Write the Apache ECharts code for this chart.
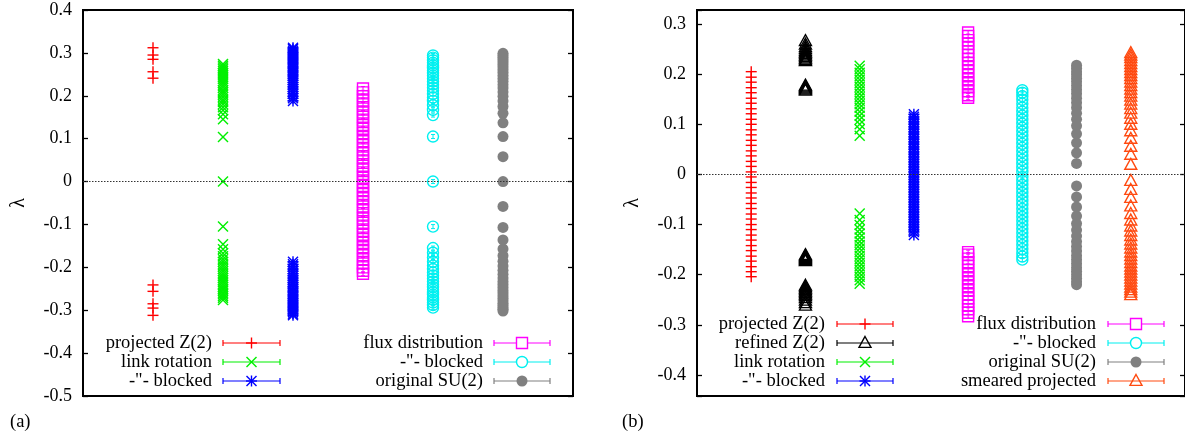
<!DOCTYPE html>
<html>
<head>
<meta charset="utf-8">
<script src="https://cdn.jsdelivr.net/npm/echarts@6/dist/echarts.min.js"></script>
<style>
  html, body { margin: 0; padding: 0; background: #fff; }
  #chart { width: 1185px; height: 440px; }
</style>
</head>
<body>
<div id="chart"></div>
<script>
// ---- Panel (a): eigenvalue spectra, one column per method ----
const projZ2A = [0.312, 0.295, 0.285, 0.256, 0.241, -0.241, -0.256, -0.285, -0.295, -0.312];
const linkRotA = [0, 0.104, 0.145, 0.157, 0.166, 0.173, 0.180, 0.186, 0.191, 0.197, 0.203, 0.208, 0.213,
  0.219, 0.224, 0.229, 0.234, 0.239, 0.244, 0.249, 0.253, 0.258, 0.262, 0.266, 0.270, 0.274,
  -0.105, -0.146, -0.158, -0.167, -0.174, -0.181, -0.187, -0.193, -0.198, -0.204, -0.209, -0.215,
  -0.220, -0.225, -0.230, -0.235, -0.240, -0.245, -0.250, -0.254, -0.259, -0.263, -0.267, -0.271, -0.276];
const linkBlockedA = [0.188, 0.194, 0.199, 0.205, 0.210, 0.216, 0.221, 0.226, 0.231, 0.236, 0.241, 0.246,
  0.250, 0.255, 0.259, 0.264, 0.268, 0.273, 0.277, 0.281, 0.285, 0.289, 0.293, 0.297, 0.301, 0.305, 0.309, 0.312,
  -0.187, -0.193, -0.198, -0.204, -0.209, -0.215, -0.220, -0.225, -0.230, -0.235, -0.240, -0.245,
  -0.249, -0.254, -0.258, -0.263, -0.267, -0.272, -0.276, -0.280, -0.284, -0.288, -0.292, -0.296, -0.300, -0.304, -0.308, -0.312];
const fluxA = [0.217, 0.208, 0.199, 0.189, 0.180, 0.170, 0.161, 0.151, 0.142, 0.132, 0.123, 0.113, 0.104,
  0.094, 0.085, 0.075, 0.066, 0.056, 0.047, 0.037, 0.028, 0.018, 0.009, -0.001, -0.010, -0.020, -0.029,
  -0.039, -0.048, -0.058, -0.067, -0.077, -0.086, -0.096, -0.105, -0.115, -0.124, -0.134, -0.143, -0.153,
  -0.162, -0.172, -0.181, -0.191, -0.200, -0.208, -0.215];
const fluxBlockedA = [0, 0.105, 0.155, 0.167, 0.178, 0.188, 0.196, 0.204, 0.212, 0.219, 0.226, 0.233, 0.240,
  0.247, 0.253, 0.259, 0.265, 0.271, 0.277, 0.283, 0.289, 0.294,
  -0.105, -0.155, -0.166, -0.177, -0.187, -0.196, -0.204, -0.212, -0.219, -0.226, -0.233, -0.240,
  -0.246, -0.252, -0.258, -0.264, -0.270, -0.276, -0.282, -0.288, -0.294];
const su2A = [0, 0.058, 0.105, 0.137, 0.159, 0.175, 0.188, 0.199, 0.209, 0.218, 0.226, 0.234, 0.241, 0.248,
  0.255, 0.261, 0.267, 0.273, 0.279, 0.284, 0.289, 0.294, 0.299,
  -0.058, -0.107, -0.136, -0.157, -0.173, -0.186, -0.197, -0.207, -0.216, -0.225, -0.233, -0.240,
  -0.247, -0.254, -0.260, -0.266, -0.272, -0.278, -0.284, -0.289, -0.294, -0.298, -0.302];

// ---- Panel (b) ----
const projZ2B = [0.005, 0.016, 0.026, 0.037, 0.047, 0.058, 0.068, 0.079, 0.089, 0.100, 0.110, 0.121, 0.131,
  0.142, 0.152, 0.163, 0.173, 0.184, 0.194, 0.205,
  -0.005, -0.016, -0.026, -0.037, -0.047, -0.058, -0.068, -0.079, -0.089, -0.100, -0.110, -0.121, -0.131,
  -0.142, -0.152, -0.163, -0.173, -0.184, -0.194, -0.204];
const refZ2B = [0.266, 0.259, 0.254, 0.250, 0.246, 0.243, 0.240, 0.237, 0.234, 0.231, 0.228, 0.226,
  0.177, 0.175, 0.173, 0.171, 0.169, 0.167,
  -0.161, -0.163, -0.165, -0.167, -0.169, -0.171, -0.173,
  -0.222, -0.225, -0.228, -0.231, -0.234, -0.237, -0.240, -0.243, -0.247, -0.252, -0.257, -0.262];
const linkRotB = [0.077, 0.090, 0.100, 0.109, 0.117, 0.125, 0.133, 0.140, 0.147, 0.154, 0.161, 0.168, 0.175,
  0.182, 0.189, 0.196, 0.203, 0.210, 0.217,
  -0.078, -0.091, -0.101, -0.110, -0.118, -0.126, -0.134, -0.141, -0.148, -0.155, -0.162, -0.169, -0.176,
  -0.183, -0.190, -0.197, -0.204, -0.211, -0.218];
const linkBlockedB = [0.120, 0.115, 0.110, 0.105, 0.100, 0.095, 0.090, 0.085, 0.080, 0.075, 0.070, 0.065,
  0.060, 0.055, 0.050, 0.045, 0.040, 0.035, 0.030, 0.025, 0.020, 0.015, 0.010, 0.005, 0.000,
  -0.005, -0.010, -0.015, -0.020, -0.025, -0.030, -0.035, -0.040, -0.045, -0.050, -0.055, -0.060, -0.065,
  -0.070, -0.075, -0.080, -0.085, -0.090, -0.095, -0.100, -0.105, -0.110, -0.115, -0.121];
const fluxB = [0.283, 0.276, 0.268, 0.261, 0.253, 0.245, 0.238, 0.230, 0.222, 0.214, 0.206, 0.198, 0.190,
  0.182, 0.174, 0.166, 0.158, 0.153,
  -0.155, -0.160, -0.168, -0.175, -0.183, -0.191, -0.199, -0.207, -0.215, -0.223, -0.231, -0.239, -0.247,
  -0.254, -0.262, -0.269, -0.276, -0.283];
const fluxBlockedB = [0.005, 0.013, 0.021, 0.029, 0.037, 0.045, 0.053, 0.061, 0.069, 0.077, 0.085, 0.093,
  0.101, 0.109, 0.117, 0.125, 0.133, 0.141, 0.149, 0.156, 0.163, 0.168,
  -0.005, -0.013, -0.021, -0.029, -0.037, -0.045, -0.053, -0.061, -0.069, -0.077, -0.085, -0.093,
  -0.101, -0.109, -0.117, -0.125, -0.133, -0.141, -0.149, -0.157, -0.164, -0.170];
const su2B = [0.022, 0.043, 0.063, 0.081, 0.097, 0.110, 0.122, 0.133, 0.143, 0.152, 0.161, 0.169, 0.177,
  0.185, 0.192, 0.199, 0.205, 0.212, 0.218,
  -0.023, -0.045, -0.065, -0.083, -0.098, -0.111, -0.123, -0.134, -0.144, -0.153, -0.162, -0.170, -0.178,
  -0.186, -0.193, -0.200, -0.207, -0.214, -0.220];
const smearedB = [0.019, 0.039, 0.055, 0.071, 0.086, 0.099, 0.111, 0.121, 0.130, 0.139, 0.147, 0.155, 0.162,
  0.169, 0.176, 0.183, 0.190, 0.196, 0.202, 0.208, 0.214, 0.220, 0.226, 0.232, 0.237, 0.242,
  -0.013, -0.031, -0.047, -0.064, -0.079, -0.092, -0.104, -0.114, -0.123, -0.132, -0.140, -0.148, -0.156,
  -0.163, -0.170, -0.177, -0.184, -0.190, -0.196, -0.202, -0.208, -0.214, -0.220, -0.226, -0.231, -0.236, -0.241];

// Series descriptions: label, values, marker, colour
const seriesA = [
  { name: 'projected Z(2)', values: projZ2A, marker: 'plus', color: '#ff0000' },
  { name: 'link rotation', values: linkRotA, marker: 'cross', color: '#00f000' },
  { name: '-"- blocked', values: linkBlockedA, marker: 'star', color: '#0000ff' },
  { name: 'flux distribution', values: fluxA, marker: 'square', color: '#ff00ff' },
  { name: '-"- blocked', values: fluxBlockedA, marker: 'circle', color: '#00f0f0' },
  { name: 'original SU(2)', values: su2A, marker: 'dot', color: '#808080' }
];
const seriesB = [
  { name: 'projected Z(2)', values: projZ2B, marker: 'plus', color: '#ff0000' },
  { name: 'refined Z(2)', values: refZ2B, marker: 'triangle', color: '#000000' },
  { name: 'link rotation', values: linkRotB, marker: 'cross', color: '#00f000' },
  { name: '-"- blocked', values: linkBlockedB, marker: 'star', color: '#0000ff' },
  { name: 'flux distribution', values: fluxB, marker: 'square', color: '#ff00ff' },
  { name: '-"- blocked', values: fluxBlockedB, marker: 'circle', color: '#00f0f0' },
  { name: 'original SU(2)', values: su2B, marker: 'dot', color: '#808080' },
  { name: 'smeared projected', values: smearedB, marker: 'triangle', color: '#ff4a10' }
];

const yTicksA = { min: -0.5, max: 0.4 };
const yTicksB = { min: -0.442, max: 0.328 };

const FONT = '"Liberation Serif", "Times New Roman", serif';

// Point glyphs in the style of gnuplot point types
function markerShapes(kind, cx, cy, color) {
  const s = 5.5, lw = 1.4;
  const seg = (x1, y1, x2, y2) => ({ type: 'line', silent: true,
    shape: { x1, y1, x2, y2 }, style: { stroke: color, lineWidth: lw } });
  const plus = () => [seg(cx - s, cy, cx + s, cy), seg(cx, cy - s, cx, cy + s)];
  const cross = () => [seg(cx - s + 0.5, cy - s + 0.5, cx + s - 0.5, cy + s - 0.5),
                       seg(cx - s + 0.5, cy + s - 0.5, cx + s - 0.5, cy - s + 0.5)];
  // tiny errorbar tick drawn at the centre of open glyphs
  const tick = () => [
    { type: 'line', silent: true, shape: { x1: cx, y1: cy - 2, x2: cx, y2: cy + 2 }, style: { stroke: color, lineWidth: 1 } },
    { type: 'line', silent: true, shape: { x1: cx - 2, y1: cy - 2, x2: cx + 2, y2: cy - 2 }, style: { stroke: color, lineWidth: 1 } },
    { type: 'line', silent: true, shape: { x1: cx - 2, y1: cy + 2, x2: cx + 2, y2: cy + 2 }, style: { stroke: color, lineWidth: 1 } }
  ];
  switch (kind) {
    case 'plus': return plus();
    case 'cross': return cross();
    case 'star': return plus().concat(cross());
    case 'square': return [{ type: 'rect', silent: true, shape: { x: cx - s, y: cy - s, width: 2 * s, height: 2 * s },
      style: { stroke: color, fill: 'none', lineWidth: lw } }].concat(tick());
    case 'circle': return [{ type: 'circle', silent: true, shape: { cx, cy, r: s },
      style: { stroke: color, fill: 'none', lineWidth: lw } }].concat(tick());
    case 'dot': return [{ type: 'circle', silent: true, shape: { cx, cy, r: s },
      style: { fill: color, stroke: 'none' } }];
    case 'triangle': return [{ type: 'polygon', silent: true,
      shape: { points: [[cx, cy - s - 1], [cx + s + 0.5, cy + s * 0.8], [cx - s - 0.5, cy + s * 0.8]] },
      style: { stroke: color, fill: 'none', lineWidth: lw } }];
  }
  return [];
}

function buildSeries(list, axisIndex) {
  return list.map((d, i) => ({
    type: 'custom',
    name: d.name,
    xAxisIndex: axisIndex,
    yAxisIndex: axisIndex * 2,
    data: d.values.map(v => [i + 1, v]),
    encode: { x: 0, y: 1 },
    clip: false,
    silent: true,
    renderItem: (params, api) => {
      const p = api.coord([api.value(0), api.value(1)]);
      return { type: 'group', children: markerShapes(d.marker, p[0], p[1], d.color) };
    },
    markLine: i === 0 ? {
      silent: true, symbol: 'none', label: { show: false },
      lineStyle: { type: [1.5, 1.5], color: '#333', width: 1 },
      data: [{ yAxis: 0 }]
    } : undefined
  }));
}

// Legend rows: text right-aligned, then an errorbar-style sample with the point glyph
function legendGraphics(list, textRight, x1, x2, rowYs) {
  const out = [];
  list.forEach((d, k) => {
    const y = rowYs[k];
    out.push({ type: 'text', silent: true,
      style: { text: d.name, x: textRight, y: y, align: 'right', verticalAlign: 'middle',
        font: '18.5px ' + FONT, fill: '#000' } });
    out.push({ type: 'line', silent: true, shape: { x1, y1: y, x2, y2: y }, style: { stroke: d.color, lineWidth: 1.2 } });
    out.push({ type: 'line', silent: true, shape: { x1, y1: y - 3, x2: x1, y2: y + 3 }, style: { stroke: d.color, lineWidth: 1.2 } });
    out.push({ type: 'line', silent: true, shape: { x1: x2, y1: y - 3, x2, y2: y + 3 }, style: { stroke: d.color, lineWidth: 1.2 } });
    markerShapes(d.marker === 'square' || d.marker === 'circle' ? d.marker + 'L' : d.marker, (x1 + x2) / 2, y, d.color)
      .forEach(e => out.push(e));
    if (d.marker === 'square') {
      out.push({ type: 'rect', silent: true, shape: { x: (x1 + x2) / 2 - 5.5, y: y - 5.5, width: 11, height: 11 },
        style: { stroke: d.color, fill: '#fff', lineWidth: 1.4 } });
    } else if (d.marker === 'circle') {
      out.push({ type: 'circle', silent: true, shape: { cx: (x1 + x2) / 2, cy: y, r: 5.5 },
        style: { stroke: d.color, fill: '#fff', lineWidth: 1.4 } });
    }
  });
  return out;
}

const tickFmt = v => {
  const r = Math.round(v * 10);
  if (Math.abs(v * 10 - r) > 1e-6) return '';
  return String(r / 10);
};

function yAxisPair(gridIndex, range, splitNumber) {
  const base = {
    gridIndex, type: 'value', min: range.min, max: range.max, splitNumber,
    axisLine: { show: false },
    axisTick: { show: true, inside: true, length: 5, lineStyle: { color: '#000', width: 1.3 } },
    splitLine: { show: false }
  };
  return [
    Object.assign({}, base, {
      position: 'left',
      name: 'λ', nameLocation: 'middle', nameRotate: 90, nameGap: 54,
      nameTextStyle: { fontFamily: FONT, fontSize: 20, color: '#000' },
      axisLabel: { show: true, margin: 11, fontFamily: FONT, fontSize: 18, color: '#000', formatter: tickFmt }
    }),
    Object.assign({}, base, { position: 'right', axisLabel: { show: false } })
  ];
}

const hiddenX = (gridIndex, max) => ({
  gridIndex, type: 'value', min: 0, max,
  axisLine: { show: false }, axisTick: { show: false }, axisLabel: { show: false }, splitLine: { show: false }
});

const chart = echarts.init(document.getElementById('chart'), null, { renderer: 'canvas' });
chart.setOption({
  animation: false,
  backgroundColor: '#fff',
  grid: [
    { left: 83, top: 10, width: 490, height: 386, show: true, borderColor: '#000', borderWidth: 2, backgroundColor: 'transparent' },
    { left: 697, top: 10, width: 490, height: 386, show: true, borderColor: '#000', borderWidth: 2, backgroundColor: 'transparent' }
  ],
  xAxis: [hiddenX(0, seriesA.length + 1), hiddenX(1, seriesB.length + 1)],
  yAxis: yAxisPair(0, yTicksA, 9).concat(yAxisPair(1, yTicksB, 8)),
  series: buildSeries(seriesA, 0).concat(buildSeries(seriesB, 1)),
  graphic: [
    { type: 'text', silent: true, style: { text: '(a)', x: 10, y: 422, verticalAlign: 'middle', font: '18.5px ' + FONT, fill: '#000' } },
    { type: 'text', silent: true, style: { text: '(b)', x: 622, y: 422, verticalAlign: 'middle', font: '18.5px ' + FONT, fill: '#000' } }
  ]
    .concat(legendGraphics(seriesA.slice(0, 3), 212, 223, 280, [343, 362, 381]))
    .concat(legendGraphics(seriesA.slice(3, 6), 483, 494, 550, [343, 362, 381]))
    .concat(legendGraphics(seriesB.slice(0, 4), 825, 837, 893, [324, 343, 362, 381]))
    .concat(legendGraphics(seriesB.slice(4, 8), 1096, 1108, 1164, [324, 343, 362, 381]))
});
</script>
</body>
</html>
